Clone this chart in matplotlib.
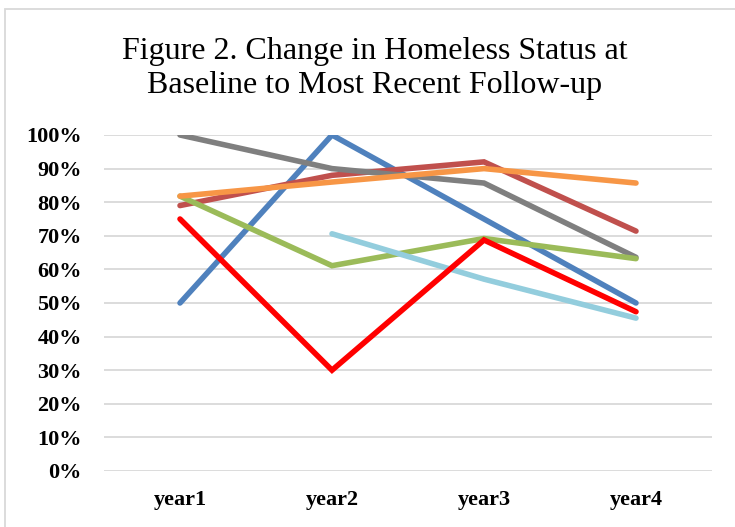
import matplotlib
matplotlib.use("Agg")
import matplotlib.pyplot as plt
from matplotlib.patches import Rectangle
from matplotlib.ticker import PercentFormatter

# chart data
years = ["year1", "year2", "year3", "year4"]
blue = [0.50, 1.00, 0.75, 0.50]
dark_red = [0.79, 0.88, 0.92, 0.714]
gray = [1.00, 0.90, 0.857, 0.636]
green = [0.818, 0.611, 0.692, 0.632]
light_blue = [None, 0.706, 0.571, 0.455]
orange = [0.818, 0.86, 0.90, 0.857]
red = [0.75, 0.30, 0.6875, 0.474]

series = [
    (blue, "#4F81BD"),
    (dark_red, "#C0504D"),
    (gray, "#7F7F7F"),
    (green, "#9BBB59"),
    (light_blue, "#93CDDD"),
    (orange, "#F79646"),
    (red, "#FF0000"),
]

plt.rcParams['font.family'] = ['Liberation Serif', 'DejaVu Serif']

W, H = 735, 527
fig = plt.figure(figsize=(W / 100, H / 100), dpi=100)
ax = fig.add_axes([104 / W, (H - 471) / H, (712 - 104) / W, (471 - 135) / H])

x = list(range(len(years)))
for vals, col in series:
    xs = [i for i, v in zip(x, vals) if v is not None]
    ys = [v for v in vals if v is not None]
    ax.plot(xs, ys, color=col, lw=4.0, solid_capstyle='round', solid_joinstyle='miter', zorder=3)

ax.set_xlim(-0.5, 3.5)
ax.set_ylim(0, 1.0)
ax.set_yticks([i / 10 for i in range(11)])
ax.yaxis.set_major_formatter(PercentFormatter(1.0, decimals=0))
ax.set_xticks(x)
ax.set_xticklabels(years)
ax.grid(axis='y', color='#D9D9D9', lw=1.3, zorder=0)
ax.tick_params(length=0, labelsize=16)
ax.tick_params(axis='y', pad=16)
ax.tick_params(axis='x', pad=14)
for lab in ax.get_xticklabels() + ax.get_yticklabels():
    lab.set_fontweight('bold')
for s in ax.spines.values():
    s.set_visible(False)

fig.text(375 / W, 1 - 51 / H, "Figure 2. Change in Homeless Status at",
         ha='center', va='center', fontsize=23)
fig.text(375 / W, 1 - 86 / H, "Baseline to Most Recent Follow-up",
         ha='center', va='center', fontsize=23)

# outer chart border
fig.patches.append(Rectangle((5 / W, -0.1), 1.2, 1 - 9 / H + 0.1, transform=fig.transFigure,
                             fill=False, edgecolor='#D9D9D9', lw=1.3))

fig.savefig("out.png", dpi=100)
